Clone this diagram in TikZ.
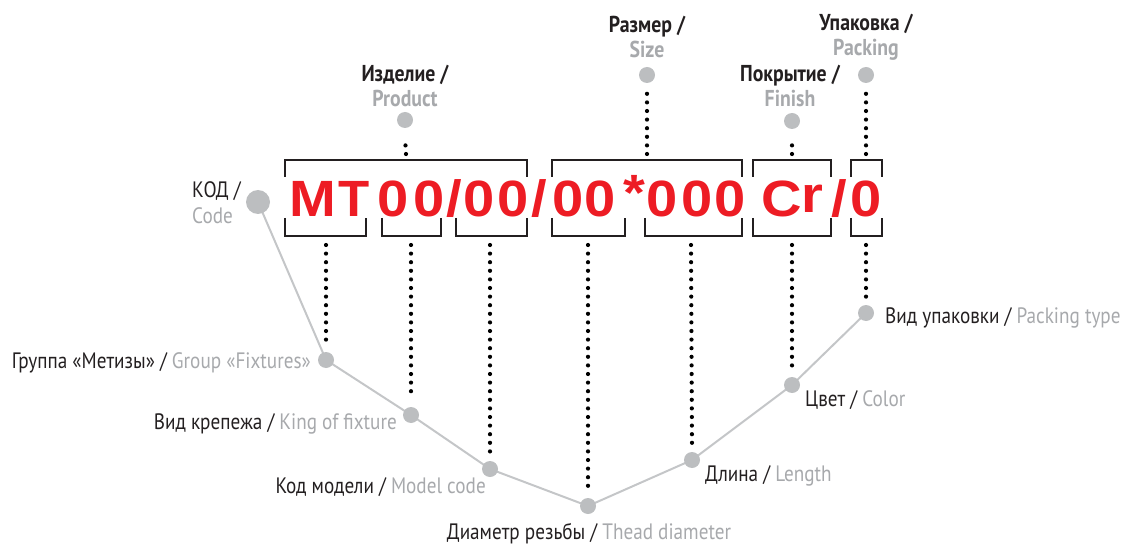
\documentclass[tikz,border=0pt]{standalone}
\usepackage{fontspec}
\usetikzlibrary{decorations.markings}
\setmainfont{PT Sans}[FakeStretch=0.86]
\newfontfamily\codefont{Liberation Sans}[FakeStretch=1.1]
\newfontfamily\codefontn{Liberation Sans}
\definecolor{codered}{HTML}{ED1C24}
\definecolor{txtblack}{HTML}{231F20}
\definecolor{txtgray}{HTML}{A7A9AC}
\definecolor{dotgray}{HTML}{BCBEC0}
\definecolor{linegray}{HTML}{C4C6C8}
\begin{document}
\begin{tikzpicture}[x=1pt,y=-1pt,
  ch/.style={inner sep=0pt, text=codered, font=\codefont\bfseries\fontsize{51}{51}\selectfont},
  chn/.style={inner sep=0pt, text=codered, font=\codefontn\bfseries\fontsize{51}{51}\selectfont},
  gdot/.style={circle, fill=dotgray, inner sep=0pt, minimum size=16pt},
  bigdot/.style={circle, fill=dotgray, inner sep=0pt, minimum size=24pt},
  brk/.style={line width=1.6pt, draw=txtblack},
  dotted line/.style={decoration={markings, mark=between positions 0 and 1 step 8.6pt with {\fill[black] (0,0) circle (2.1pt);}}, postaction={decorate}},
  lbl/.style={inner sep=0pt, font=\fontsize{22.3}{26}\selectfont, text=txtblack},
  toplbl/.style={inner sep=0pt, align=center, font=\bfseries\fontsize{23}{25}\selectfont, text=txtblack},
  vline/.style={draw=linegray, line width=2pt}
]
\useasboundingbox (0,0) rectangle (1123,545);

% code characters
\node[ch] (cM) at (312.5,199) {M};
\node[chn] (cT) at (354,199) {T};
\node[ch] (c1) at (393,199) {0};
\node[ch] (c2) at (429,199) {0};
\node[ch] (c3) at (454,199) {/};
\node[ch] (c4) at (479,199) {0};
\node[ch] (c5) at (513,199) {0};
\node[ch] (c6) at (539,199) {/};
\node[ch] (c7) at (568,199) {0};
\node[ch] (c8) at (600,199) {0};
\node[ch] (c9) at (634,193) {*};
\node[ch] (c10) at (662,199) {0};
\node[ch] (c11) at (697,199) {0};
\node[ch] (c12) at (730,199) {0};
\node[ch] (c13) at (781.5,199) {C};
\node[ch] (c14) at (812.5,199) {r};
\node[ch] (c15) at (839,199) {/};
\node[ch] (c16) at (866,199) {0};

% top brackets
\draw[brk] (285,177) -- (285,160) -- (527,160) -- (527,177);
\draw[brk] (552,177) -- (552,160) -- (742,160) -- (742,177);
\draw[brk] (753,177) -- (753,160) -- (831,160) -- (831,177);
\draw[brk] (851,177) -- (851,160) -- (882,160) -- (882,177);
% bottom brackets
\draw[brk] (285,218) -- (285,236) -- (366,236) -- (366,218);
\draw[brk] (382,218) -- (382,236) -- (441,236) -- (441,218);
\draw[brk] (456,218) -- (456,236) -- (527,236) -- (527,218);
\draw[brk] (552,218) -- (552,236) -- (625,236) -- (625,218);
\draw[brk] (645,218) -- (645,236) -- (742,236) -- (742,218);
\draw[brk] (753,218) -- (753,236) -- (831,236) -- (831,218);
\draw[brk] (851,218) -- (851,236) -- (882,236) -- (882,218);

% bracket anchor coordinates
\coordinate (t1) at (406,154);
\coordinate (t2) at (647,154);
\coordinate (t3) at (792,154);
\coordinate (t4) at (866,154);
\coordinate (b1) at (326,245);
\coordinate (b2) at (411,245);
\coordinate (b3) at (490,245);
\coordinate (b4) at (588,245);
\coordinate (b5) at (691,245);
\coordinate (b6) at (792,245);
\coordinate (b7) at (866,245);

% V line and dots
\coordinate (code) at (258,202);
\coordinate (g1) at (326,360);
\coordinate (g2) at (411,415);
\coordinate (g3) at (490,469);
\coordinate (g4) at (588,506);
\coordinate (g5) at (692,460);
\coordinate (g6) at (792,385);
\coordinate (g7) at (866,313);
\draw[vline] (code) -- (g1) -- (g2) -- (g3) -- (g4) -- (g5) -- (g6) -- (g7);
\node[bigdot] (ncode) at (code) {};
\node[gdot] (n1) at (g1) {};
\node[gdot] (n2) at (g2) {};
\node[gdot] (n3) at (g3) {};
\node[gdot] (n4) at (g4) {};
\node[gdot] (n5) at (g5) {};
\node[gdot] (n6) at (g6) {};
\node[gdot] (n7) at (g7) {};

% top dots
\node[gdot] (p1) at (405,120) {};
\node[gdot] (p2) at (647,75) {};
\node[gdot] (p3) at (792,121) {};
\node[gdot] (p4) at (866,75) {};

% dotted connectors
\path[dotted line] (t1) -- ([yshift=-9pt]p1.south);
\path[dotted line] (t2) -- ([yshift=-9pt]p2.south);
\path[dotted line] (t3) -- ([yshift=-9pt]p3.south);
\path[dotted line] (t4) -- ([yshift=-9pt]p4.south);
\path[dotted line] (b1) -- ([yshift=7pt]n1.north);
\path[dotted line] (b2) -- ([yshift=7pt]n2.north);
\path[dotted line] (b3) -- ([yshift=7pt]n3.north);
\path[dotted line] (b4) -- ([yshift=7pt]n4.north);
\path[dotted line] (b5) -- ([yshift=7pt]n5.north);
\path[dotted line] (b6) -- ([yshift=7pt]n6.north);
\path[dotted line] (b7) -- ([yshift=7pt]n7.north);

% top labels
\node[toplbl] (lp1) at (405,86) {Изделие /\\\textcolor{txtgray}{Product}};
\node[toplbl] (lp2) at (647,37) {Размер /\\\textcolor{txtgray}{Size}};
\node[toplbl] (lp3) at (790,86) {Покрытие /\\\textcolor{txtgray}{Finish}};
\node[toplbl] (lp4) at (866,37) {Упаковка /\\\textcolor{txtgray}{Packing}};

% code label
\node[lbl, anchor=west, align=left] (lcode) at (192,203) {КОД /\\\textcolor{txtgray}{Code}};

% bottom labels
\node[lbl, anchor=east] (l1) at (311,363) {Группа «Метизы» / \textcolor{txtgray}{Group «Fixtures»}};
\node[lbl, anchor=east] (l2) at (397,424) {Вид крепежа / \textcolor{txtgray}{King of fixture}};
\node[lbl, anchor=east] (l3) at (486,487) {Код модели / \textcolor{txtgray}{Model code}};
\node[lbl] (l4) at (589,534) {Диаметр резьбы / \textcolor{txtgray}{Thead diameter}};
\node[lbl, anchor=west] (l5) at (705,476) {Длина / \textcolor{txtgray}{Length}};
\node[lbl, anchor=west] (l6) at (805,400) {Цвет / \textcolor{txtgray}{Color}};
\node[lbl, anchor=west] (l7) at (885,318) {Вид упаковки / \textcolor{txtgray}{Packing type}};
\end{tikzpicture}
\end{document}
